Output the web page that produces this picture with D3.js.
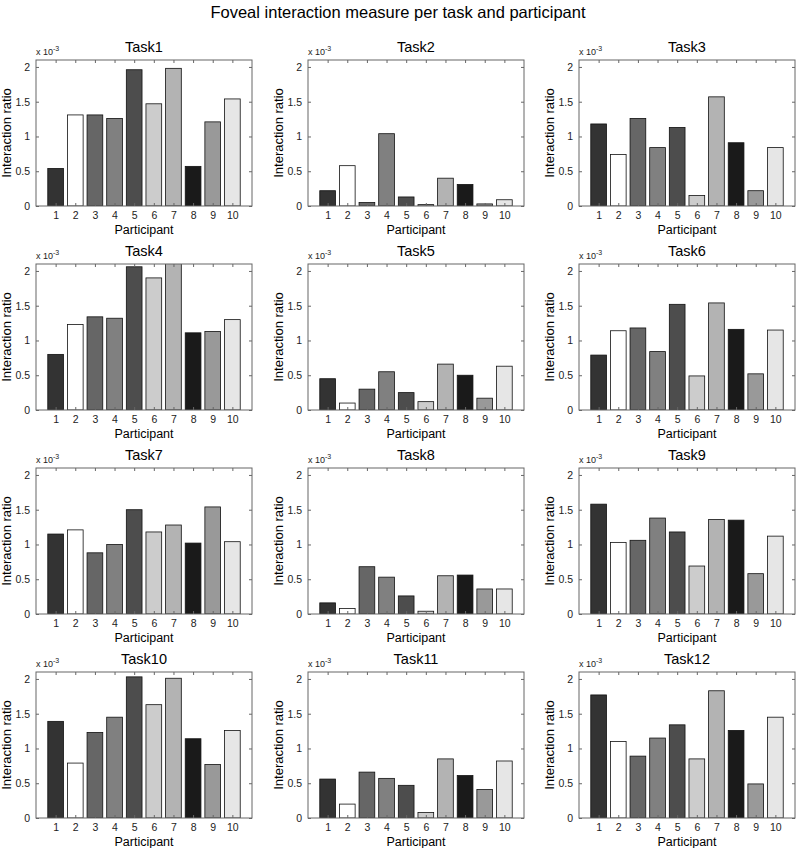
<!DOCTYPE html>
<html>
<head>
<meta charset="utf-8">
<script src="https://cdn.jsdelivr.net/npm/d3@7"></script>
<style>
  html, body { margin: 0; padding: 0; background: #fff; }
  svg { display: block; font-family: "Liberation Sans", Arial, sans-serif; }
</style>
</head>
<body>
<svg id="chart" width="797" height="848"></svg>
<script>
// ---- data (values in units of 1e-3) ----
const chartTitle = "Foveal interaction measure per task and participant";
const participants = [1, 2, 3, 4, 5, 6, 7, 8, 9, 10];
const taskNames = ["Task1","Task2","Task3","Task4","Task5","Task6","Task7","Task8","Task9","Task10","Task11","Task12"];
const task1  = [0.54, 1.31, 1.31, 1.26, 1.96, 1.47, 1.98, 0.57, 1.21, 1.54];
const task2  = [0.22, 0.58, 0.05, 1.04, 0.13, 0.02, 0.40, 0.31, 0.03, 0.09];
const task3  = [1.18, 0.74, 1.26, 0.84, 1.13, 0.15, 1.57, 0.91, 0.22, 0.84];
const task4  = [0.80, 1.23, 1.34, 1.32, 2.06, 1.90, 2.15, 1.11, 1.13, 1.30];
const task5  = [0.45, 0.10, 0.30, 0.55, 0.25, 0.12, 0.66, 0.50, 0.17, 0.63];
const task6  = [0.79, 1.14, 1.18, 0.84, 1.52, 0.49, 1.54, 1.16, 0.52, 1.15];
const task7  = [1.15, 1.21, 0.88, 1.00, 1.50, 1.18, 1.28, 1.02, 1.54, 1.04];
const task8  = [0.16, 0.08, 0.68, 0.53, 0.26, 0.04, 0.55, 0.56, 0.36, 0.36];
const task9  = [1.58, 1.03, 1.06, 1.38, 1.18, 0.69, 1.36, 1.35, 0.58, 1.12];
const task10 = [1.39, 0.79, 1.23, 1.45, 2.03, 1.63, 2.01, 1.14, 0.77, 1.26];
const task11 = [0.56, 0.20, 0.66, 0.57, 0.47, 0.08, 0.85, 0.61, 0.41, 0.82];
const task12 = [1.77, 1.10, 0.89, 1.15, 1.34, 0.85, 1.83, 1.26, 0.49, 1.45];
const taskValues = [task1, task2, task3, task4, task5, task6, task7, task8, task9, task10, task11, task12];
const yTicks = [0, 0.5, 1, 1.5, 2];
const yTickLabels = ["0", "0.5", "1", "1.5", "2"];
const participantColors = ["#333333","#ffffff","#666666","#808080","#4d4d4d","#cccccc","#b3b3b3","#1a1a1a","#999999","#e6e6e6"];

// ---- layout ----
const svg = d3.select("#chart");
const colLeft = [36, 308, 579];
const rowTop = [60, 264, 468, 672];
const pw = 216, ph = 146;
const axisColor = "#666";

svg.append("text")
  .attr("x", 398).attr("y", 18)
  .attr("text-anchor", "middle")
  .attr("font-size", 16.5)
  .attr("fill", "#000")
  .text(chartTitle);

const x = d3.scaleLinear().domain([0, 11]).range([0, pw]);
const y = d3.scaleLinear().domain([0, 2.1]).range([ph, 0]);
const barW = x(0.8) - x(0);

taskNames.forEach((name, i) => {
  const r = Math.floor(i / 3), c = i % 3;
  const g = svg.append("g").attr("transform", `translate(${colLeft[c]},${rowTop[r]})`);
  const vals = taskValues[i];

  const clipId = "clip" + i;
  g.append("clipPath").attr("id", clipId)
    .append("rect").attr("x", 0).attr("y", 0).attr("width", pw).attr("height", ph);

  // bars
  g.append("g").attr("clip-path", `url(#${clipId})`)
    .selectAll("rect").data(participants).enter().append("rect")
    .attr("x", (d) => x(d) - barW / 2)
    .attr("y", (d, j) => y(vals[j]))
    .attr("width", barW)
    .attr("height", (d, j) => y(0) - y(vals[j]))
    .attr("fill", (d, j) => participantColors[j])
    .attr("stroke", "#111")
    .attr("stroke-width", 0.8);

  // axes (MATLAB style box with inward ticks)
  const axB = d3.axisBottom(x).tickValues(participants).tickSize(-3).tickPadding(6).tickFormat(d3.format("d"));
  const axT = d3.axisTop(x).tickValues(participants).tickSize(-3).tickFormat("");
  const axL = d3.axisLeft(y).tickValues(yTicks).tickSize(-3).tickPadding(6).tickFormat((d, k) => yTickLabels[k]);
  const axR = d3.axisRight(y).tickValues(yTicks).tickSize(-3).tickFormat("");

  const styleAxis = (sel) => {
    sel.selectAll("path").attr("stroke", axisColor).attr("stroke-width", 1);
    sel.selectAll("line").attr("stroke", axisColor);
    sel.selectAll("text").attr("font-size", 10.5).attr("fill", "#222")
      .attr("font-family", "'Liberation Sans', Arial, sans-serif");
  };
  g.append("g").attr("transform", `translate(0,${ph})`).call(axB).call(styleAxis);
  g.append("g").call(axT).call(styleAxis);
  g.append("g").call(axL).call(styleAxis);
  g.append("g").attr("transform", `translate(${pw},0)`).call(axR).call(styleAxis);
  g.selectAll(".domain").attr("d", null);
  g.append("rect").attr("x", 0).attr("y", 0).attr("width", pw).attr("height", ph)
    .attr("fill", "none").attr("stroke", axisColor).attr("stroke-width", 1);

  // title
  g.append("text").attr("x", pw / 2).attr("y", -8)
    .attr("text-anchor", "middle").attr("font-size", 14.5).attr("fill", "#000")
    .text(name);

  // exponent
  const ex = g.append("text").attr("x", 0).attr("y", -5).attr("font-size", 9).attr("fill", "#222");
  ex.append("tspan").text("x 10");
  ex.append("tspan").attr("dy", -4).attr("font-size", 7).text("-3");

  // axis labels
  g.append("text").attr("transform", `translate(-25,${ph / 2}) rotate(-90)`)
    .attr("text-anchor", "middle").attr("font-size", 13).attr("fill", "#000")
    .text("Interaction ratio");
  g.append("text").attr("x", pw / 2).attr("y", ph + 28)
    .attr("text-anchor", "middle").attr("font-size", 12.5).attr("fill", "#000")
    .text("Participant");
});
</script>
</body>
</html>
